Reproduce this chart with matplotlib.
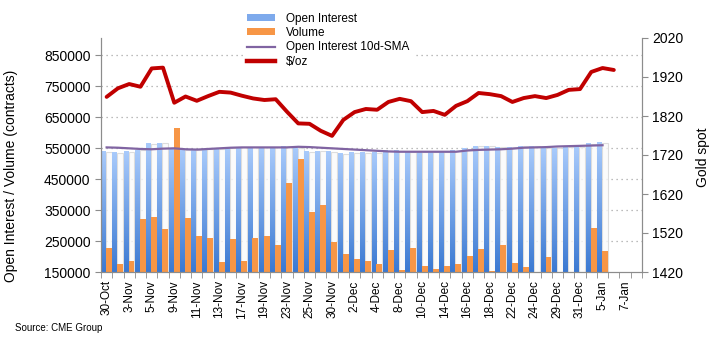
import numpy as np
import matplotlib

matplotlib.use("Agg")
import matplotlib.pyplot as plt
from matplotlib.colors import LinearSegmentedColormap
from matplotlib.patches import Patch
from matplotlib.lines import Line2D

plt.rcParams["font.family"] = ["Liberation Sans", "DejaVu Sans"]

dates = ["30-Oct", "2-Nov", "3-Nov", "4-Nov", "5-Nov", "6-Nov", "9-Nov", "10-Nov", "11-Nov",
         "12-Nov", "13-Nov", "16-Nov", "17-Nov", "18-Nov", "19-Nov", "20-Nov", "23-Nov",
         "24-Nov", "25-Nov", "27-Nov", "30-Nov", "1-Dec", "2-Dec", "3-Dec", "4-Dec", "7-Dec",
         "8-Dec", "9-Dec", "10-Dec", "11-Dec", "14-Dec", "15-Dec", "16-Dec", "17-Dec",
         "18-Dec", "21-Dec", "22-Dec", "23-Dec", "24-Dec", "28-Dec", "29-Dec", "30-Dec",
         "31-Dec", "4-Jan", "5-Jan", "6-Jan", "7-Jan", "8-Jan"]

open_interest = [538000, 535000, 538000, 543000, 563000, 566000, 548000, 543000, 543000,
                 546000, 546000, 549000, 552000, 552000, 552000, 552000, 556000, 549000,
                 538000, 540000, 538000, 531000, 535000, 535000, 535000, 541000, 541000,
                 538000, 538000, 538000, 538000, 541000, 547000, 556000, 556000, 552000,
                 552000, 556000, 556000, 549000, 549000, 554000, 552000, 563000, 567000]

volume = [226000, 177000, 185000, 321000, 327000, 290000, 615000, 325000, 266000,
          261000, 183000, 257000, 186000, 261000, 267000, 237000, 438000, 515000,
          344000, 367000, 248000, 209000, 193000, 185000, 177000, 222000, 157000,
          226000, 170000, 161000, 170000, 175000, 203000, 225000, 154000, 236000,
          180000, 165000, 148000, 199000, 151000, 140000, 145000, 293000, 219000]

oi_sma = [552000, 551000, 549000, 547000, 546000, 548000, 549000, 546000, 545000,
          547000, 549000, 551000, 552000, 552000, 552000, 552000, 552000, 554000,
          553000, 551000, 549000, 547000, 545000, 543000, 541000, 539000, 538000,
          538000, 538000, 538000, 538000, 538000, 542000, 544000, 545000, 546000,
          548000, 551000, 552000, 553000, 555000, 556000, 557000, 558000, 559000]

gold = [1869, 1891, 1902, 1895, 1942, 1944, 1854, 1870, 1859, 1871, 1882, 1880,
        1872, 1865, 1861, 1863, 1831, 1801, 1800, 1782, 1769, 1810, 1830, 1838,
        1836, 1856, 1864, 1858, 1830, 1833, 1823, 1846, 1858, 1879, 1876, 1871,
        1856, 1866, 1871, 1866, 1874, 1887, 1889, 1933, 1943, 1938]

BLUE_DARK = "#3b79d2"
BLUE_LIGHT = "#a8cafb"
ORANGE = "#f79646"
PURPLE = "#8064a2"
RED = "#c00000"
GRAY = "#8c8c8c"
Y0 = 150000

fig = plt.figure(figsize=(7.17, 3.51), dpi=100)
ax = fig.add_axes([101 / 717, 1 - 272 / 351, 541 / 717, 234 / 351])
ax2 = ax.twinx()

x = np.arange(len(dates))
xo = x[:len(open_interest)]

# gridlines (left scale)
for v in range(250000, 900000, 100000):
    ax.axhline(v, color="#a6a6a6", lw=0.9, ls=(0, (1, 3)), zorder=0.5)

# pale column behind each volume bar
ax.bar(xo + 0.205, np.array(open_interest) - Y0, bottom=Y0, width=0.53,
       color="#fafafa", edgecolor="#d6d6d6", lw=0.8, alpha=0.8, zorder=1)

# open interest, vertical gradient
cmap = LinearSegmentedColormap.from_list("oi", [BLUE_DARK, BLUE_LIGHT])
grad = np.linspace(0, 1, 64).reshape(-1, 1)
for xi, h in zip(xo, open_interest):
    ax.imshow(grad, extent=(xi - 0.5, xi - 0.06, Y0, h), origin="lower",
              aspect="auto", cmap=cmap, zorder=2, interpolation="bilinear")

ax.bar(xo + 0.205, np.array(volume) - Y0, bottom=Y0, width=0.53, color=ORANGE, zorder=2)
ax.plot(xo, oi_sma, color=PURPLE, lw=1.6, zorder=3)

ax.set_xlim(-0.5, len(dates) - 0.5)
ax.set_ylim(Y0, 905000)
ax.set_yticks(range(150000, 900000, 100000))
ax.set_ylabel("Open Interest / Volume (contracts)", fontsize=10)
ax.yaxis.set_label_coords(-0.153, 0.41)

ax2.plot(np.arange(len(gold)), gold, color=RED, lw=2.8, solid_capstyle="round")
ax2.set_ylim(1420, 2020)
ax2.set_yticks(range(1420, 2021, 100))
ax2.set_ylabel("Gold spot", fontsize=10)
ax2.yaxis.set_label_coords(1.1, 0.49)

ax.set_xticks(x[::2])
ax.set_xticklabels(dates[::2], rotation=90, fontsize=8.5)
ax.set_xticks(np.arange(-0.5, len(dates), 1), minor=True)
ax.tick_params(axis="x", which="major", length=0, pad=6)
ax.tick_params(axis="x", which="minor", length=4, color=GRAY, direction="out")
ax.tick_params(axis="y", labelsize=10, length=4, color=GRAY)
ax2.tick_params(axis="y", labelsize=10, length=4, color=GRAY)

for a in (ax, ax2):
    a.spines["top"].set_visible(False)
    for s in ("left", "right", "bottom"):
        a.spines[s].set_color(GRAY)

handles = [Patch(facecolor="#7eaaec", edgecolor="none"),
           Patch(facecolor=ORANGE, edgecolor="none"),
           Line2D([], [], color=PURPLE, lw=1.6),
           Line2D([], [], color=RED, lw=3.2)]
labels = ["Open Interest", "Volume", "Open Interest 10d-SMA", "$/oz"]
leg = ax2.legend(handles, labels, loc="upper left", bbox_to_anchor=(0.3396, 0.974),
                 bbox_transform=fig.transFigure, fontsize=8.5, frameon=True,
                 facecolor="white", edgecolor="none", framealpha=1, fancybox=False,
                 borderaxespad=0, borderpad=0.3, labelspacing=0.2, handlelength=2.4,
                 handleheight=0.5, handletextpad=0.9)

fig.text(15 / 717, 1 - 328 / 351, "Source: CME Group", fontsize=7, va="center")

fig.savefig("out.png", dpi=100)
